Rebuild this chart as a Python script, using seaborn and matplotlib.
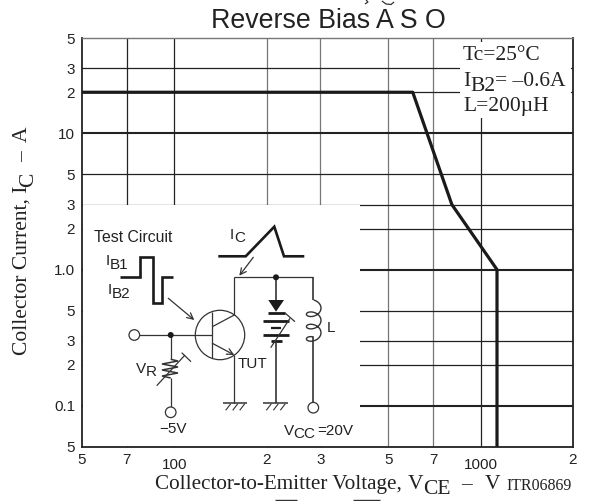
import numpy as np
import pandas as pd
import seaborn as sns
import matplotlib
matplotlib.use('Agg')
import matplotlib.pyplot as plt
from matplotlib.patches import Circle, Polygon, Rectangle

# Curve values
vce_values = [50, 600, 805, 1130, 1130]
ic_values = [20, 20, 3, 1, 0.05]

x_ticks = [50, 70, 100, 200, 300, 500, 700, 1000, 2000]
x_tick_labels = ['5', '7', '100', '2', '3', '5', '7', '1000', '2']
y_ticks = [50, 30, 20, 10, 5, 3, 2, 1, 0.5, 0.3, 0.2, 0.1, 0.05]
y_tick_labels = ['5', '3', '2', '10', '5', '3', '2', '1.0', '5', '3', '2', '0.1', '5']

SANS = 'Liberation Sans'
SERIF = 'Liberation Serif'
DARK = '#222222'
GRAY = '#777777'

W, H = 595, 501

sns.set_style('white')
plt.rcParams['font.family'] = [SANS, 'DejaVu Sans']

fig = plt.figure(figsize=(W / 100, H / 100), dpi=100)
ax = fig.add_axes([82 / W, (H - 447) / H, (573 - 82) / W, (447 - 38) / H])
ax.set_xscale('log')
ax.set_yscale('log')

# Grid lines, some of them darker or heavier as in the original
for v in x_ticks[1:-1]:
    color = GRAY if v in (200, 300, 500, 700) else DARK
    ax.axvline(v, color=color, lw=0.9, zorder=1)
for v in y_ticks[1:-1]:
    lw = 1.5 if v in (10, 1, 0.1) else 0.9
    ax.axhline(v, color=DARK, lw=lw, zorder=1)

df = pd.DataFrame({'vce': vce_values, 'ic': ic_values})
sns.lineplot(data=df, x='vce', y='ic', sort=False, estimator=None,
             color='#1a1a1a', lw=2.3, ax=ax, zorder=3)

ax.set_xlim(50, 2000)
ax.set_ylim(0.05, 50)
ax.set_xticks(x_ticks)
ax.set_xticklabels(x_tick_labels)
ax.set_yticks(y_ticks)
ax.set_yticklabels(y_tick_labels)
ax.minorticks_off()
ax.set_xlabel('')
ax.set_ylabel('')
ax.tick_params(axis='both', length=0, labelsize=11, colors=DARK)
ax.tick_params(axis='x', pad=4)
ax.tick_params(axis='y', pad=5)
# 100 and 1000 sit lower than the other x labels
for tick, lab in zip(ax.xaxis.get_major_ticks(), x_tick_labels):
    if len(lab) > 1:
        tick.set_pad(8)
for side in ['left', 'bottom', 'right']:
    ax.spines[side].set_color(DARK)
    ax.spines[side].set_linewidth(1.3)
ax.spines['top'].set_color(GRAY)
ax.spines['top'].set_linewidth(1.0)

# Overlay in pixel coordinates for the text and the test circuit
ov = fig.add_axes([0, 0, 1, 1], facecolor='none')
ov.set_xlim(0, W)
ov.set_ylim(H, 0)
ov.axis('off')

ov.add_patch(Rectangle((83, 205), 277, 241, fc='white', ec='none', zorder=1))
ov.add_patch(Rectangle((460, 42), 111, 76, fc='white', ec='none', zorder=1))


def sans(x, y, s, size=11):
    ov.text(x, y, s, family=SANS, fontsize=size, color=DARK, va='baseline', zorder=5)


def serif(x, y, s, size=15.5, rot=0):
    ov.text(x, y, s, family=SERIF, fontsize=size, color=DARK, va='baseline',
            rotation=rot, rotation_mode='anchor', zorder=5)


def wire(xs, ys, lw=0.9, color='#333333'):
    ov.plot(xs, ys, color=color, lw=lw, solid_capstyle='butt', solid_joinstyle='miter', zorder=4)


def arrow(x0, y0, x1, y1):
    ov.annotate('', xy=(x1, y1), xytext=(x0, y0),
                arrowprops=dict(arrowstyle='->', color='#333333', lw=0.9,
                                shrinkA=0, shrinkB=0, mutation_scale=11), zorder=4)


def ground(x0, x1, y):
    wire([x0, x1], [y, y], lw=1.1)
    for s in (x0 + 3, x0 + 10, x0 + 17):
        wire([s, s + 5], [y + 7, y + 0.5], lw=0.8)


def terminal(x, y):
    ov.add_patch(Circle((x, y), 5.3, fc='white', ec='#333333', lw=0.9, zorder=5))


def dot(x, y):
    ov.add_patch(Circle((x, y), 3, fc='#1a1a1a', ec='none', zorder=5))


# Title and outer labels
ov.text(328, 28, 'Reverse Bias A S O', family=SANS, fontsize=19.3, color=DARK,
        ha='center', va='baseline')
serif(155, 489, 'Collector-to-Emitter Voltage,', size=15.2)
serif(408, 489, 'V')
serif(423, 494, 'CE')
serif(461, 489, '\u2013')
serif(485, 489, 'V')
serif(506.5, 490, 'ITR06869', size=11.5)

serif(27, 355, 'Collector Current, I', rot=90)
serif(33, 187, 'C', rot=90)
serif(27, 162, '\u2013', rot=90)
serif(27, 142, 'A', rot=90)

# Slivers of neighbouring text cut off by the page edge, too little to read
wire([275, 297], [500, 500], lw=1.0)
wire([353, 380], [500, 500], lw=1.0)
wire([366, 368, 365], [0, 2, 4], lw=0.9)
wire([382, 386, 391, 394], [1, 4, 4.5, 2], lw=0.9)

# Conditions box
serif(463, 60, 'Tc=25\u00b0C')
serif(463, 86, 'I')
serif(470.5, 91, 'B2')
serif(495, 86, '= \u20130.6A')
serif(463, 111, 'L=200\u00b5H')

# Test circuit labels
sans(94, 242, 'Test Circuit', size=11.4)
sans(106, 265, 'I')
sans(110, 269, 'B1')
sans(108, 294, 'I')
sans(112, 298, 'B2')
sans(230, 239, 'I')
sans(234, 242, 'C')
sans(136, 373, 'V')
sans(146, 376, 'R')
sans(159, 433, '\u22125V')
sans(237.5, 368, 'TUT')
sans(326.5, 332, 'L')
sans(284, 435, 'V')
sans(293.5, 437.5, 'CC')
sans(317, 435, '=20V')

# Drive pulses
wire([120.3, 140, 140, 153.3, 153.3, 162.3, 162.3, 173.3],
     [276.7, 276.7, 257.3, 257.3, 303.3, 303.3, 276.7, 276.7], lw=1.9, color='#1a1a1a')
wire([218.3, 245.7, 274.3, 284, 304.3],
     [256.3, 256.3, 226.7, 256.3, 256.3], lw=1.9, color='#1a1a1a')
arrow(168.3, 298.3, 194.3, 320)
arrow(253.3, 257.3, 239.3, 275.7)

# Transistor
ov.add_patch(Circle((220, 335), 24.7, fc='none', ec='#333333', lw=0.9, zorder=4))
wire([212.3, 212.3], [311.7, 358.3])
wire([134.3, 212.3], [335, 335])
wire([212.3, 234.3], [326.7, 315])
wire([234.3, 234.3], [277.3, 315])
arrow(212.3, 343.3, 234.3, 355)
wire([234.3, 234.3], [355, 403.3])
ground(222.7, 246.7, 403.3)
terminal(134.3, 335)
dot(170.7, 335)

# Base resistor
wire([170.7, 170.7], [335, 359.3])
wire([170.7, 178, 162, 178, 162, 178, 162, 170.7],
     [359.3, 361, 364, 367, 370, 373, 376, 378], lw=1.1)
wire([170.7, 170.7], [378, 407])
wire([156.7, 185], [385.7, 355])
wire([181.7, 191], [352.7, 361.7])
terminal(170.7, 412.3)

# Collector wiring
wire([234.3, 312.7], [277.3, 277.3])
dot(276, 277.3)
wire([276, 276], [277.3, 300], lw=1.2)
ov.add_patch(Polygon([[268.3, 300], [284, 300], [276, 311.7]], fc='#1a1a1a', ec='none', zorder=4))
for y, half, lw in [(313.3, 8.5, 2.0), (321, 13.3, 2.0), (328.3, 5, 1.6), (335, 13.3, 2.0), (341.3, 5.5, 2.0)]:
    wire([276 - half, 276 + half], [y, y], lw=lw, color='#1a1a1a')
wire([270.7, 290], [347.7, 318.3])
wire([285, 295], [313, 321.7])
wire([276, 276], [341.3, 403.3], lw=1.2)
ground(263.3, 288.3, 403.3)

# Coil
theta = np.linspace(0, 6 * np.pi, 200)
wire([312.7, 312.7], [277.3, 300], lw=1.2)
wire(313.7 + 7.3 * np.sin(theta), 300 + 37 * theta / (6 * np.pi) + 5 * (1 - np.cos(theta)), lw=1.0)
wire([312.7, 312.7], [337, 402.5], lw=1.2)
terminal(313.3, 407.7)

fig.savefig('out.png', dpi=100)
